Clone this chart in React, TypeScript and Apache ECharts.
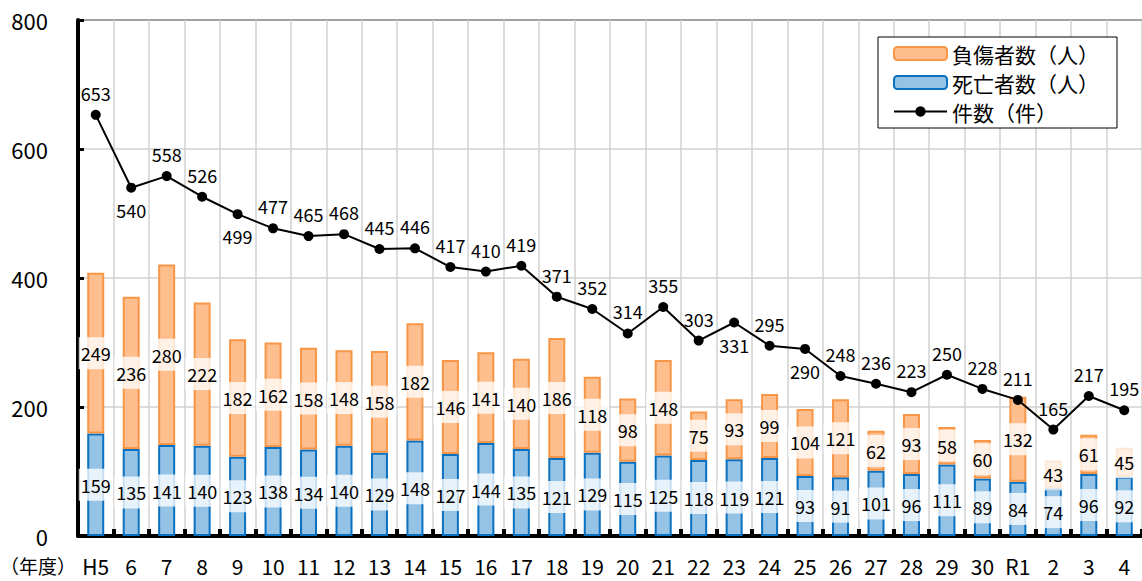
import React, { useEffect, useRef } from "react";
import * as echarts from "echarts";

const categories = ["H5","6","7","8","9","10","11","12","13","14","15","16","17","18","19","20","21","22","23","24","25","26","27","28","29","30","R1","2","3","4"];
const injured = [249,236,280,222,182,162,158,148,158,182,146,141,140,186,118,98,148,75,93,99,104,121,62,93,58,60,132,43,61,45];
const deaths = [159,135,141,140,123,138,134,140,129,148,127,144,135,121,129,115,125,118,119,121,93,91,101,96,111,89,84,74,96,92];
const cases = [653,540,558,526,499,477,465,468,445,446,417,410,419,371,352,314,355,303,331,295,290,248,236,223,250,228,211,165,217,195];
const yTicks = [0, 200, 400, 600, 800];
const belowLabelCats = ["6", "9", "23", "25"];

const FONT = "'Noto Sans CJK JP', 'Noto Sans', sans-serif";

export default function App() {
  const ref = useRef<HTMLDivElement>(null);
  useEffect(() => {
    if (!ref.current) return;
    const chart = echarts.init(ref.current, null, { renderer: "svg" });
    const barLabel = {
      show: true,
      position: "inside",
      color: "#000",
      fontSize: 18,
      fontFamily: FONT,
      backgroundColor: "rgba(255,255,255,0.78)",
      padding: [7, 2],
    };
    chart.setOption({
      animation: false,
      backgroundColor: "#fff",
      textStyle: { fontFamily: FONT },
      grid: { left: 78, top: 20, width: 1067, height: 516 },
      legend: {
        left: 878,
        top: 37,
        orient: "vertical",
        backgroundColor: "#fff",
        borderColor: "#000",
        borderWidth: 1,
        borderRadius: 0,
        padding: [6, 18, 6, 15],
        itemGap: 8,
        itemWidth: 53,
        itemHeight: 13,
        textStyle: { fontSize: 21, lineHeight: 21, color: "#000", fontFamily: FONT },
        data: ["負傷者数（人）", "死亡者数（人）", "件数（件）"],
      },
      xAxis: {
        type: "category",
        data: categories,
        boundaryGap: true,
        axisLine: { lineStyle: { color: "#000", width: 4 } },
        axisTick: { show: true, inside: true, length: 7, lineStyle: { color: "#000", width: 4 } },
        axisLabel: { fontSize: 21, color: "#000", margin: 19, fontFamily: FONT },
        splitLine: { show: true, lineStyle: { color: "#d0d0d0", width: 1.5 } },
      },
      yAxis: {
        type: "value",
        min: yTicks[0],
        max: yTicks[yTicks.length - 1],
        interval: 200,
        axisLine: { show: true, lineStyle: { color: "#000", width: 4 } },
        axisTick: { show: true, inside: true, length: 6, lineStyle: { color: "#000", width: 3 } },
        axisLabel: { fontSize: 22, color: "#000", margin: 30, fontFamily: FONT },
        splitLine: { show: true, lineStyle: { color: ["#d0d0d0", "#d0d0d0", "#d0d0d0", "#d0d0d0", "#808080"], width: 1.5 } },
      },
      series: [
        {
          name: "死亡者数（人）",
          type: "bar",
          stack: "total",
          barWidth: 17,
          data: deaths,
          itemStyle: { color: "#95C3E6", borderColor: "#0A70C0", borderWidth: 2 },
          label: barLabel,
        },
        {
          name: "負傷者数（人）",
          type: "bar",
          stack: "total",
          barWidth: 17,
          data: injured,
          itemStyle: { color: "#FFBE8E", borderColor: "#F79646", borderWidth: 2 },
          label: barLabel,
        },
        {
          name: "件数（件）",
          type: "line",
          data: cases.map((v, i) => ({
            value: v,
            label: { position: belowLabelCats.includes(categories[i]) ? "bottom" : "top" },
          })),
          symbol: "circle",
          symbolSize: 10,
          itemStyle: { color: "#000" },
          lineStyle: { color: "#000", width: 2 },
          z: 5,
          label: {
            show: true,
            color: "#000",
            fontSize: 18,
            fontFamily: FONT,
            distance: 8,
          },
        },
      ],
      graphic: [
        {
          type: "text",
          left: 0,
          top: 556,
          style: { text: "（年度）", fontSize: 19, fill: "#000", fontFamily: FONT },
        },
      ],
    });
    return () => chart.dispose();
  }, []);
  return <div ref={ref} style={{ position: "absolute", left: 0, top: 0, width: 1142, height: 581 }} />;
}
